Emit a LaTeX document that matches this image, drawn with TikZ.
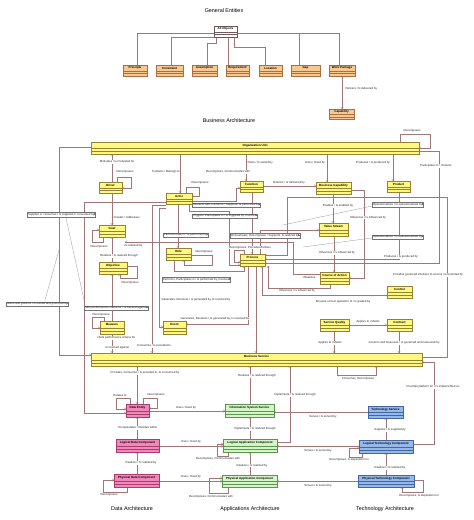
\documentclass[tikz,border=0pt]{standalone}
\usepackage{fontspec}
\setmainfont{Liberation Sans}
\usetikzlibrary{arrows.meta}
\definecolor{linec}{RGB}{160,118,118}
\definecolor{genfill}{RGB}{248,200,145}
\definecolor{genborder}{RGB}{170,110,70}
\definecolor{objfill}{RGB}{255,255,255}
\definecolor{objborder}{RGB}{110,90,90}
\definecolor{busfill}{RGB}{255,248,130}
\definecolor{busborder}{RGB}{150,130,50}
\definecolor{datfill}{RGB}{242,135,185}
\definecolor{datborder}{RGB}{170,60,110}
\definecolor{appfill}{RGB}{212,245,200}
\definecolor{appborder}{RGB}{90,150,80}
\definecolor{tecfill}{RGB}{150,185,235}
\definecolor{tecborder}{RGB}{70,100,160}
\newcommand\lbf{\fontsize{2.9}{3.2}\selectfont}
\newcommand\clf{\fontsize{3}{3.4}\selectfont\bfseries}
\newcommand\ttf{\fontsize{5.4}{6}\selectfont}
\tikzset{
  cn/.style={draw=linec, line width=0.35pt},
  ar/.style={cn, -{Straight Barb[length=1.8pt,width=2.6pt]}},
  anc/.style={draw=black!45, line width=0.25pt},
  lbl/.style={font=\lbf, inner sep=0.3pt, fill=white, text=black!85},
  notebox/.style={font=\lbf, draw=black!55, fill=white, line width=0.3pt, inner sep=0.9pt, anchor=west, text=black!85,
    append after command={([xshift=-1.6pt]\tikzlastnode.north east) edge[draw=black!55,line width=0.3pt] ([xshift=-1.6pt,yshift=-1.6pt]\tikzlastnode.north east)
      ([xshift=-1.6pt,yshift=-1.6pt]\tikzlastnode.north east) edge[draw=black!55,line width=0.3pt] ([yshift=-1.6pt]\tikzlastnode.north east)}},
  clsbox/.style={line width=0.4pt, inner sep=0pt, outer sep=0pt, rectangle},
  clstext/.style={font=\clf, inner sep=0pt, text=black},
  ttl/.style={font=\ttf, inner sep=0pt, text=black}
}
\newcommand\umlclass[7]{%
  \node[clsbox, draw=#7border, fill=#7fill, minimum width={(#4-#2)*1pt}, minimum height={(#5-#3)*1pt}] (#1) at ({(#2+#4)/2},{(#3+#5)/2}) {};
  \draw[draw=#7border, line width=0.3pt] (#2,{#3+0.55*(#5-#3)}) -- (#4,{#3+0.55*(#5-#3)});
  \draw[draw=#7border, line width=0.3pt] (#2,{#3+0.78*(#5-#3)}) -- (#4,{#3+0.78*(#5-#3)});
  \node[clstext] (#1-t) at ({(#2+#4)/2},{#3+0.28*(#5-#3)}) {#6};
}
\begin{document}
\begin{tikzpicture}[x=1pt,y=-1pt]
\useasboundingbox (0,0) rectangle (474,520);
\fill[white] (0,0) rectangle (474,520);
% ---------- titles
\node[ttl] (t1) at (224,11) {General Entities};
\node[ttl] (t2) at (229,121) {Business Architecture};
\node[ttl] (t3) at (132,509) {Data Architecture};
\node[ttl] (t4) at (250,509) {Applications Architecture};
\node[ttl] (t5) at (385,509) {Technology Architecture};
% ---------- general connectors
\draw[cn] (214,33) -- (137,33) -- (137,65);
\draw[cn] (214,37) -- (171,37) -- (171,65);
\draw[cn] (216,37) -- (216,43) -- (207,43) -- (207,65);
\draw[cn] (228,37) -- (228,65);
\draw[cn] (234,37) -- (234,47) -- (265,47) -- (265,65);
\draw[cn] (237,33) -- (339,33) -- (339,65);
\draw[cn] (299,33) -- (299,65);
\draw[ar] (342,76) -- (342,109);
% ---------- business connectors
\draw[ar] (112,182) -- (112,154);
\draw[ar] (117,182) -- (117,177) -- (131,177) -- (131,188) -- (122,188);
\draw[ar] (112,193) -- (112,225);
\draw[ar] (103,237) -- (103,242) -- (92,242) -- (92,230) -- (99,230);
\draw[ar] (112,262) -- (112,237);
\draw[ar] (320,274) -- (293,274) -- (293,242) -- (125,242);
\draw[ar] (127,266) -- (137,266) -- (137,278) -- (120,278) -- (120,274);
\draw[ar] (112,321) -- (112,274);
\draw[ar] (104,321) -- (104,317) -- (92,317) -- (92,328) -- (100,328);
\draw[ar] (112,334) -- (112,353);
\draw[ar] (91,147) -- (59,147) -- (59,355) -- (91,355);
\draw[ar] (166,202) -- (84,202) -- (84,413) -- (126,413);
\draw[ar] (180,154) -- (180,193);
\draw[ar] (186,193) -- (186,187) -- (199,187) -- (199,196) -- (192,196);
\draw[ar] (192,201) -- (236,201) -- (236,188) -- (240,188);
\draw[ar] (189,204) -- (189,211) -- (229,211) -- (229,265) -- (240,265);
\draw[ar] (178,204) -- (178,248);
\draw[ar] (166,205) -- (152,205) -- (152,353);
\draw[ar] (166,208) -- (159,208) -- (159,327) -- (163,327);
\draw[ar] (191,255) -- (212,255) -- (212,265) -- (184,265) -- (184,260);
\draw[ar] (174,260) -- (174,271) -- (244,271) -- (244,266);
\draw[ar] (244,254) -- (244,250) -- (234,250) -- (234,262) -- (240,262);
\draw[ar] (252,192) -- (252,254);
\draw[ar] (248,266) -- (248,324) -- (186,324);
\draw[ar] (256,266) -- (256,353);
\draw[ar] (387,295) -- (262,295) -- (262,266);
\draw[ar] (260,254) -- (260,230) -- (319,230);
\draw[ar] (263,186) -- (316,186);
\draw[ar] (246,154) -- (246,181);
\draw[ar] (327,154) -- (327,182);
\draw[ar] (393,154) -- (393,181);
\draw[ar] (400,142) -- (400,134) -- (430,134) -- (430,148) -- (419,148);
\draw[ar] (419,151) -- (439,151) -- (439,263) -- (265,263);
\draw[ar] (399,192) -- (399,259) -- (265,259);
\draw[ar] (333,194) -- (333,223);
\draw[ar] (351,190) -- (364,190) -- (364,278) -- (349,278);
\draw[ar] (334,236) -- (334,272);
\draw[ar] (330,284) -- (330,288) -- (268,288) -- (268,266);
\draw[ar] (422,357) -- (447,357) -- (447,197) -- (287,197) -- (287,255) -- (265,255);
\draw[ar] (349,325) -- (387,325);
\draw[ar] (334,331) -- (334,353);
\draw[ar] (399,331) -- (399,353);
\draw[ar] (337,366) -- (337,375) -- (376,375) -- (376,366);
% ---------- data / application / technology connectors
\draw[ar] (137,366) -- (137,404);
\draw[ar] (130,404) -- (130,398) -- (116,398) -- (116,409) -- (126,409);
\draw[ar] (143,404) -- (143,398) -- (157,398) -- (157,408) -- (149,408);
\draw[ar] (149,411) -- (225,411);
\draw[ar] (250,404) -- (250,366);
\draw[ar] (277,442) -- (290,442) -- (290,366);
\draw[ar] (368,412) -- (274,412);
\draw[ar] (413,444) -- (434,444) -- (434,362) -- (422,362);
\draw[ar] (386,440) -- (386,418);
\draw[ar] (362,453) -- (362,457) -- (349,457) -- (349,448) -- (359,448);
\draw[ar] (359,446) -- (277,446);
\draw[ar] (386,475) -- (386,453);
\draw[ar] (414,480) -- (423,480) -- (423,492) -- (402,492) -- (402,487);
\draw[ar] (358,481) -- (277,481);
\draw[ar] (250,475) -- (250,452);
\draw[ar] (228,452) -- (228,456) -- (217,456) -- (217,444) -- (223,444);
\draw[ar] (228,487) -- (228,493) -- (209,493) -- (209,478) -- (222,478);
\draw[ar] (159,446) -- (223,446);
\draw[ar] (159,481) -- (222,481);
\draw[ar] (137,439) -- (137,417);
\draw[ar] (137,474) -- (137,452);
\draw[ar] (127,487) -- (127,492) -- (103,492) -- (103,480) -- (114,480);
\draw[ar] (250,439) -- (250,417);
% ---------- note anchors
\draw[anc] (66,218) -- (84,300);
\draw[anc] (45,300) -- (59,250);
\draw[anc] (283,225) -- (372,206);
\draw[anc] (303,247) -- (372,238);
% ---------- classes
\umlclass{allobj}{214}{26}{237}{37}{All Objects}{obj}
\umlclass{principle}{123}{65}{147}{76}{Principle}{gen}
\umlclass{constraint}{156}{65}{183}{76}{Constraint}{gen}
\umlclass{assumption}{192}{65}{217}{76}{Assumption}{gen}
\umlclass{requirement}{226}{65}{249}{76}{Requirement}{gen}
\umlclass{location}{259}{65}{282}{76}{Location}{gen}
\umlclass{gap}{291}{65}{320}{76}{Gap}{gen}
\umlclass{workpkg}{329}{65}{355}{76}{Work Package}{gen}
\umlclass{capability}{329}{109}{354}{119}{Capability}{gen}
\umlclass{org}{91}{142}{419}{154}{Organization Unit}{bus}
\umlclass{driver}{99}{182}{122}{193}{Driver}{bus}
\umlclass{actor}{166}{193}{192}{204}{Actor}{bus}
\umlclass{function}{240}{181}{263}{192}{Function}{bus}
\umlclass{bcap}{316}{182}{351}{194}{Business Capability}{bus}
\umlclass{product}{387}{181}{410}{192}{Product}{bus}
\umlclass{goal}{99}{225}{125}{237}{Goal}{bus}
\umlclass{objective}{99}{262}{127}{274}{Objective}{bus}
\umlclass{role}{166}{248}{191}{260}{Role}{bus}
\umlclass{vstream}{319}{223}{348}{236}{Value Stream}{bus}
\umlclass{process}{240}{254}{265}{266}{Process}{bus}
\umlclass{coa}{320}{272}{349}{284}{Course of Action}{bus}
\umlclass{control}{387}{286}{412}{298}{Control}{bus}
\umlclass{measure}{100}{321}{124}{334}{Measure}{bus}
\umlclass{event}{163}{321}{186}{334}{Event}{bus}
\umlclass{squal}{320}{319}{349}{331}{Service Quality}{bus}
\umlclass{contract}{387}{319}{412}{331}{Contract}{bus}
\umlclass{bservice}{91}{353}{422}{366}{Business Service}{bus}
\umlclass{dentity}{126}{404}{149}{417}{Data Entity}{dat}
\umlclass{ldc}{116}{439}{159}{452}{Logical Data Component}{dat}
\umlclass{pdc}{114}{474}{159}{487}{Physical Data Component}{dat}
\umlclass{iss}{225}{404}{274}{417}{Information System Service}{app}
\umlclass{lac}{223}{439}{277}{452}{Logical Application Component}{app}
\umlclass{pac}{222}{475}{277}{487}{Physical Application Component}{app}
\umlclass{tserv}{368}{406}{403}{418}{Technology Service}{tec}
\umlclass{ltc}{359}{440}{413}{453}{Logical Technology Component}{tec}
\umlclass{ptc}{358}{475}{414}{487}{Physical Technology Component}{tec}
% ---------- notes
\node[notebox] (n1) at (27,214.5) {Supplies or consumes / Is supplied or consumed by};
\node[notebox] (n2) at (6,304) {Owns and governs / Is owned and governed by};
\node[notebox] (n3) at (84,308) {Sets performance criteria for / Is tracked against};
\node[notebox] (n4) at (192,205) {Interacts with, Performs / Supports, Is performed by};
\node[notebox] (n5) at (192,216) {Triggers, Participates in / Is triggered by, Involves};
\node[notebox] (n6) at (163,235) {Performs task in / Is performed by};
\node[notebox] (n7) at (230,235.5) {Orchestrates, Decomposes / Supports, Is realized by};
\node[notebox] (n8) at (162,279.5) {Performs, Participates in / Is performed by, Involves};
\node[notebox] (n9) at (372,204.5) {Operationalizes / Is operationalized by};
\node[notebox] (n10) at (372,237) {Operationalizes / Is operationalized by};
% ---------- labels
\node[lbl, anchor=west] (l1) at (345,89) {Delivers / Is delivered by};
\node[lbl] (l2) at (117,162) {Motivates / Is motivated by};
\node[lbl] (l3) at (125,172) {Decomposes};
\node[lbl, anchor=west] (l4) at (113,217) {Creates / Addresses};
\node[lbl] (l5) at (99,246.5) {Decomposes};
\node[lbl] (l6) at (119,256) {Realizes / Is realized through};
\node[lbl] (l7) at (133,245.5) {+Is realized by};
\node[lbl] (l8) at (309,277.5) {+Realizes};
\node[lbl] (l9) at (130,283) {Decomposes};
\node[lbl] (l10) at (101,314.5) {Decomposes};
\node[lbl] (l11) at (116,338) {+Sets performance criteria for};
\node[lbl] (l12) at (117,347.5) {+Is tracked against};
\node[lbl] (l13) at (166,172) {Contains / Belongs to};
\node[lbl] (l14) at (200,183) {Decomposes};
\node[lbl, anchor=west] (l15) at (161,299.5) {Generates, Resolves / Is generated by, Is resolved by};
\node[lbl] (l16) at (215,318.5) {Generates, Resolves / Is generated by, Is resolved by};
\node[lbl] (l17) at (204,252) {Decomposes};
\node[lbl] (l18) at (250,247.5) {Decomposes, Precedes/Follows};
\node[lbl] (l19) at (154,346) {Consumes / Is provided to};
\node[lbl] (l20) at (228,172) {Decomposes, Communicates with};
\node[lbl, anchor=west] (l21) at (247,162.5) {Owns / Is owned by};
\node[lbl] (l22) at (289,183) {Delivers / Is delivered by};
\node[lbl] (l23) at (315,163) {Uses / Used by};
\node[lbl] (l24) at (373,163) {Produces / Is produced by};
\node[lbl] (l25) at (412,131) {Decomposes};
\node[lbl] (l26) at (436,166) {Participates in / Involves};
\node[lbl] (l27) at (338,206) {Enables / Is enabled by};
\node[lbl] (l28) at (368,217.5) {Influences / Is influenced by};
\node[lbl] (l29) at (337,253) {Influences / Is influenced by};
\node[lbl] (l30) at (297,290.5) {Influences / Is influenced by};
\node[lbl] (l31) at (401,257) {Produces / Is produced by};
\node[lbl] (l32) at (428,275) {Provides governed interface to access / Is bounded by};
\node[lbl] (l33) at (343,301.5) {Ensures correct operation of / Is guided by};
\node[lbl] (l34) at (368,321.5) {Applies to / Meets};
\node[lbl] (l35) at (330,343) {Applies to / Meets};
\node[lbl] (l36) at (404,343) {Governs and measures / Is governed and measured by};
\node[lbl] (l37) at (358,379) {Consumes, Decomposes};
\node[lbl] (l38) at (145,373) {Provides, Consumes / Is provided to, Is consumed by};
\node[lbl] (l39) at (120,395) {Relates to};
\node[lbl] (l40) at (156,395) {Decomposes};
\node[lbl] (l41) at (186,407.5) {Uses / Used by};
\node[lbl] (l42) at (257,376) {Realizes / Is realized through};
\node[lbl] (l43) at (295,395) {Implements / Is realized through};
\node[lbl] (l44) at (323,417) {Serves / Is served by};
\node[lbl] (l45) at (433,387) {Provides platform for / Is implemented on};
\node[lbl] (l46) at (138,428) {Encapsulates / Resides within};
\node[lbl] (l47) at (191,441.5) {Uses / Used by};
\node[lbl] (l48) at (255,429) {Implements / Is realized through};
\node[lbl] (l49) at (390,430) {Supplies / Is supplied by};
\node[lbl] (l50) at (318,451) {Serves / Is served by};
\node[lbl] (l51) at (349,459.5) {Decomposes, Is dependent on};
\node[lbl] (l52) at (218,458.5) {Decomposes, Communicates with};
\node[lbl] (l53) at (252,465.5) {Realizes / Is realized by};
\node[lbl] (l54) at (141,463) {Realizes / Is realized by};
\node[lbl] (l55) at (390,468) {Realizes / Is realized by};
\node[lbl] (l56) at (191,477) {Uses / Used by};
\node[lbl] (l57) at (318,486) {Serves / Is served by};
\node[lbl] (l58) at (109,494.5) {Decomposes};
\node[lbl] (l59) at (211,497) {Decomposes, Communicates with};
\node[lbl] (l60) at (419,496) {Decomposes, Is dependent on};
\end{tikzpicture}
\end{document}
